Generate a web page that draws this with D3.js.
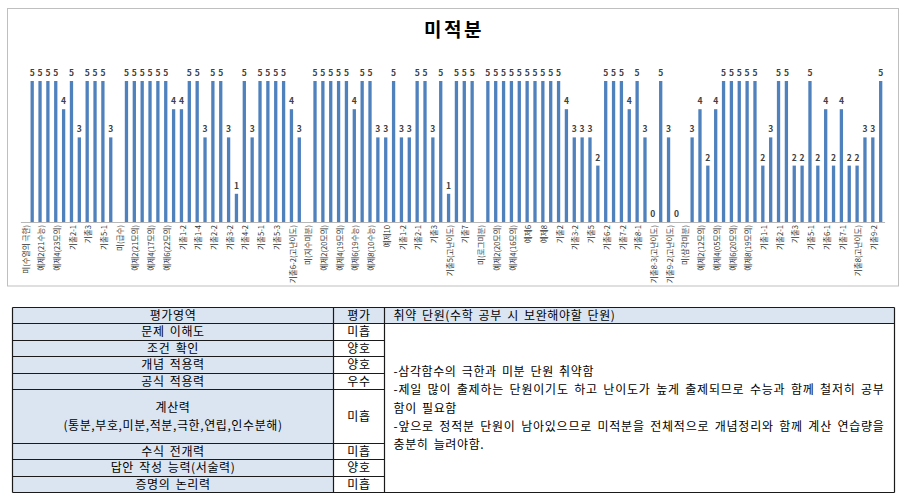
<!DOCTYPE html>
<html>
<head>
<meta charset="utf-8">
<script src="https://cdn.jsdelivr.net/npm/d3@7"></script>
<style>
  body { margin: 0; background: #fff; }
  svg text { font-family: "Noto Sans CJK KR", "Noto Sans", sans-serif; }
</style>
</head>
<body>
<div id="vis"></div>
<script>
// score per problem (null = section header, no bar)
const values = [
  null, 5, 5, 5, 5, 4, 5, 3, 5, 5, 5, 3,
  null, 5, 5, 5, 5, 5, 5, 4, 4, 5, 5, 3, 5, 5, 3, 1, 5, 3, 5, 5, 5, 5, 4, 3,
  null, 5, 5, 5, 5, 5, 4, 5, 5, 3, 3, 5, 3, 3, 5, 5, 3, 5, 1, 5, 5, 5,
  null, 5, 5, 5, 5, 5, 5, 5, 5, 5, 5, 4, 3, 3, 3, 2, 5, 5, 5, 4, 5, 3, 0, 5, 3, 0,
  null, 3, 4, 2, 4, 5, 5, 5, 5, 5, 2, 3, 5, 5, 2, 2, 5, 2, 4, 2, 4, 2, 2, 3, 3, 5
];

// only every second category gets a visible label
const tickLabels = [
  "미(수열의 극한)", "예제2(21수능)", "예제4(23모의)", "기출2-1", "기출3", "기출5-1",
  "미(급수)", "예제2(21모의)", "예제4(17모의)", "예제6(22모의)", "기출1-2", "기출1-4",
  "기출2-2", "기출3-2", "기출4-2", "기출5-1", "기출5-3", "기출6-2(고난이도)",
  "미(지수미분)", "예제2(20모의)", "예제4(19모의)", "예제6(19수능)", "예제8(10수능)", "예제10",
  "기출1-2", "기출2-1", "기출3", "기출5(고난이도)", "기출7",
  "미(로그미분)", "예제2(20모의)", "예제4(16모의)", "예제6", "예제8", "기출2",
  "기출3-2", "기출5", "기출6-2", "기출7-2", "기출8-1", "기출8-3(고난이도)", "기출9-2(고난이도)",
  "미(삼각미분)", "예제2(12모의)", "예제4(05모의)", "예제6(20모의)", "예제8(19모의)", "기출1-1",
  "기출2-1", "기출3", "기출5-1", "기출6-1", "기출7-1", "기출8(고난이도)", "기출9-2"
];

const areas = ["문제 이해도", "조건 확인", "개념 적용력", "공식 적용력",
  ["계산력", "(통분,부호,미분,적분,극한,연립,인수분해)"],
  "수식 전개력", "답안 작성 능력(서술력)", "증명의 논리력"];
const grades = ["미흡", "양호", "양호", "우수", "미흡", "미흡", "양호", "미흡"];
const headers = ["평가영역", "평가", "취약 단원(수학 공부 시 보완해야할 단원)"];
const weakLines = [
  { t: "-삼각함수의 극한과 미분 단원 취약함", justify: false },
  { t: "-제일 많이 출제하는 단원이기도 하고 난이도가 높게 출제되므로 수능과 함께 철저히 공부", justify: true },
  { t: "함이 필요함", justify: false },
  { t: "-앞으로 정적분 단원이 남아있으므로 미적분을 전체적으로 개념정리와 함께 계산 연습량을", justify: true },
  { t: "충분히 늘려야함.", justify: false }
];

const w = 904, h = 503;
const svg = d3.select("#vis").append("svg").attr("width", w).attr("height", h);

/* CHART BOX */
svg.append("rect")
  .attr("x", 7.5).attr("y", 8.5).attr("width", 891).attr("height", 277.5)
  .attr("fill", "#fff").attr("stroke", "#bfbfbf");

svg.append("text")
  .attr("x", 454).attr("y", 37)
  .attr("text-anchor", "middle")
  .style("font-size", "19px").style("font-weight", "bold")
  .style("letter-spacing", "2.5px")
  .text("미적분");

/* SCALES */
const xScale = d3.scaleBand()
  .domain(d3.range(values.length))
  .range([20.4, 884.6])
  .paddingInner(0.58)
  .paddingOuter(0.29);

const yScale = d3.scaleLinear().domain([0, 5]).range([222, 81]);

/* AXIS */
const xAxis = d3.axisBottom(xScale)
  .tickSize(0)
  .tickFormat(function(i) { return i % 2 === 0 ? tickLabels[i / 2] : ""; });

const gx = svg.append("g")
  .attr("transform", "translate(0,222)")
  .call(xAxis);
gx.select(".domain").attr("stroke", "#b8b8b8");
gx.selectAll("text")
  .attr("transform", "rotate(-90)")
  .attr("x", -3).attr("y", 1.5)
  .attr("dy", "0.35em")
  .attr("text-anchor", "end")
  .attr("fill", "#333")
  .style("font-size", "7.6px");

/* BARS */
const data = values.map(function(v, i) { return { i: i, v: v }; })
  .filter(function(d) { return d.v !== null; });

svg.append("g").selectAll("rect")
  .data(data)
  .enter().append("rect")
  .attr("x", function(d) { return xScale(d.i); })
  .attr("y", function(d) { return yScale(d.v); })
  .attr("width", xScale.bandwidth())
  .attr("height", function(d) { return yScale(0) - yScale(d.v); })
  .attr("fill", "#4f81bd");

svg.append("g").selectAll("text")
  .data(data)
  .enter().append("text")
  .attr("x", function(d) { return xScale(d.i) + xScale.bandwidth() / 2; })
  .attr("y", function(d) { return yScale(d.v) - 5; })
  .attr("text-anchor", "middle")
  .attr("fill", "#404040")
  .style("font-size", "8.5px").style("font-weight", "bold")
  .text(function(d) { return d.v; });

/* TABLE */
const colX = [12.5, 333.5, 384.5, 894.5];
const rowH = [16, 17, 16, 17, 16, 54, 16, 17, 16];
const rowY = [307.5];
rowH.forEach(function(r, k) { rowY.push(rowY[k] + r); });
const line = "#1a1a1a";
const tbl = svg.append("g")
  .style("font-size", "12px")
  .style("letter-spacing", "0.6px")
  .style("word-spacing", "2px");

// backgrounds
tbl.append("rect").attr("x", colX[0]).attr("y", rowY[0])
  .attr("width", colX[3] - colX[0]).attr("height", rowH[0]).attr("fill", "#dbe5f1");
tbl.append("rect").attr("x", colX[0]).attr("y", rowY[1])
  .attr("width", colX[1] - colX[0]).attr("height", rowY[9] - rowY[1]).attr("fill", "#dbe5f1");

// grid lines
rowY.forEach(function(y, k) {
  const x2 = (k === 0 || k === 1 || k === 9) ? colX[3] : colX[2];
  tbl.append("line").attr("x1", colX[0]).attr("x2", x2)
    .attr("y1", y).attr("y2", y).attr("stroke", line).attr("stroke-width", 1.2);
});
colX.forEach(function(x) {
  tbl.append("line").attr("x1", x).attr("x2", x)
    .attr("y1", rowY[0]).attr("y2", rowY[9]).attr("stroke", line).attr("stroke-width", 1.2);
});

// header
tbl.append("text").attr("x", (colX[0] + colX[1]) / 2).attr("y", rowY[0] + rowH[0] / 2)
  .attr("dy", "0.35em").attr("text-anchor", "middle").text(headers[0]);
tbl.append("text").attr("x", (colX[1] + colX[2]) / 2).attr("y", rowY[0] + rowH[0] / 2)
  .attr("dy", "0.35em").attr("text-anchor", "middle").text(headers[1]);
tbl.append("text").attr("x", colX[2] + 9).attr("y", rowY[0] + rowH[0] / 2)
  .attr("dy", "0.35em").text(headers[2]);

// rows
areas.forEach(function(a, k) {
  const cy = rowY[k + 1] + rowH[k + 1] / 2;
  if (Array.isArray(a)) {
    a.forEach(function(s, j) {
      tbl.append("text").attr("x", (colX[0] + colX[1]) / 2).attr("y", cy + (j - 0.5) * 18.4)
        .attr("dy", "0.35em").attr("text-anchor", "middle").text(s);
    });
  } else {
    tbl.append("text").attr("x", (colX[0] + colX[1]) / 2).attr("y", cy)
      .attr("dy", "0.35em").attr("text-anchor", "middle").text(a);
  }
  tbl.append("text").attr("x", (colX[1] + colX[2]) / 2).attr("y", cy)
    .attr("dy", "0.35em").attr("text-anchor", "middle").text(grades[k]);
});

// merged comment cell
weakLines.forEach(function(l, j) {
  const t = tbl.append("text").attr("x", colX[2] + 9).attr("y", 371.7 + j * 18.33)
    .attr("dy", "0.35em").text(l.t);
  if (l.justify) t.attr("textLength", 491).attr("lengthAdjust", "spacing");
});
</script>
</body>
</html>
